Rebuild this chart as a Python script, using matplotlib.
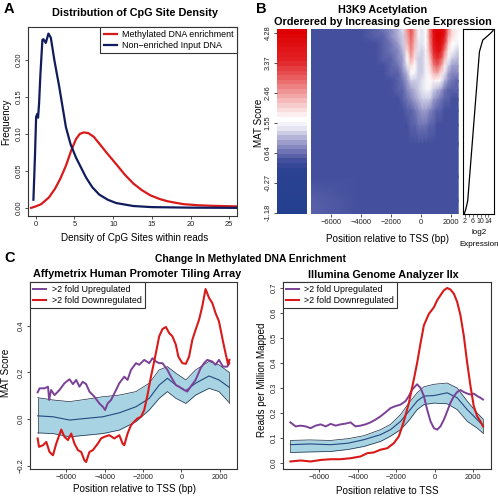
import matplotlib
matplotlib.use("Agg")
import matplotlib.pyplot as plt
import numpy as np
from matplotlib.colors import LinearSegmentedColormap, Normalize
from matplotlib.cm import ScalarMappable

plt.rcParams['font.family'] = ['Liberation Sans', 'DejaVu Sans']

# ---------------- Panel A: CpG density ----------------
meth_x = [-0.6, 0, 0.7, 1.7, 2.5, 3.2, 3.9, 4.6, 5.2, 5.7, 6.2, 6.8, 7.5, 8.2, 9.2,
          10.4, 11.5, 12.6, 13.7, 14.8, 16.0, 17.0, 18.0, 19.1, 21.0, 23.0, 26.0]
meth_y = [0.0, 0.002, 0.005, 0.014, 0.026, 0.040, 0.057, 0.078, 0.093, 0.100, 0.102,
          0.101, 0.096, 0.087, 0.074, 0.059, 0.045, 0.033, 0.024, 0.017, 0.012, 0.009,
          0.007, 0.005, 0.0035, 0.0027, 0.002]
input_x = [-0.3, -0.1, 0.05, 0.2, 0.3, 0.43, 0.6, 0.86, 1.0, 1.3, 1.64, 1.95, 2.4, 3.03,
           3.9, 4.5, 5.2, 6.5, 7.3, 8.2, 9.3, 10.4, 12.6, 15.0, 20.0, 26.0]
input_y = [0.011, 0.07, 0.123, 0.127, 0.122, 0.141, 0.18, 0.227, 0.228, 0.223, 0.2356,
           0.23, 0.200, 0.164, 0.109, 0.086, 0.068, 0.041, 0.028, 0.018, 0.011, 0.0065,
           0.0025, 0.001, 0.0003, 0.0]

# ---------------- Panel B: heatmap (MAT score) ----------------
# columns: position (bp); rows: gene rank from top (0 = highest expression)
heat_pos = [-7500, -4000, -3000, -2500, -2000, -1500, -1200, -900, -650, -400, -150,
            100, 350, 600, 850, 1100, 1350, 1600, 1850, 2100, 2500]
heat_rank = [0.0, 0.04, 0.08, 0.12, 0.16, 0.20, 0.24, 0.28, 0.33, 0.38, 0.44, 0.52,
             0.62, 0.80, 0.93, 1.0]
heat_mat = [
    [0.40, 0.42, 0.50, 0.65, 0.85, 1.10, 1.35, 2.50, 3.00, 2.40, 1.45, 1.40, 1.70, 2.70, 3.90, 4.30, 4.30, 3.90, 2.60, 2.00, 1.80],
    [0.40, 0.42, 0.48, 0.60, 0.80, 1.05, 1.30, 2.40, 2.90, 2.30, 1.45, 1.40, 1.65, 2.60, 3.80, 4.30, 4.20, 3.60, 2.40, 1.90, 1.70],
    [0.40, 0.41, 0.46, 0.55, 0.72, 0.95, 1.20, 2.20, 2.80, 2.20, 1.40, 1.35, 1.60, 2.50, 3.60, 4.10, 4.00, 3.20, 2.10, 1.70, 1.50],
    [0.40, 0.40, 0.44, 0.50, 0.65, 0.85, 1.10, 1.90, 2.60, 2.10, 1.35, 1.30, 1.55, 2.30, 3.40, 3.90, 3.60, 2.70, 1.80, 1.50, 1.30],
    [0.40, 0.40, 0.42, 0.47, 0.58, 0.75, 1.00, 1.60, 2.30, 1.90, 1.30, 1.25, 1.50, 2.10, 3.00, 3.40, 3.10, 2.20, 1.50, 1.25, 1.10],
    [0.40, 0.40, 0.41, 0.44, 0.52, 0.66, 0.90, 1.35, 2.00, 1.70, 1.25, 1.20, 1.50, 1.90, 2.60, 2.90, 2.50, 1.80, 1.20, 1.00, 0.90],
    [0.40, 0.40, 0.40, 0.42, 0.48, 0.60, 0.80, 1.10, 1.60, 1.50, 1.20, 1.20, 1.50, 1.75, 2.20, 2.30, 2.00, 1.40, 0.95, 0.80, 0.75],
    [0.40, 0.40, 0.40, 0.41, 0.45, 0.55, 0.70, 0.90, 1.25, 1.30, 1.20, 1.35, 1.55, 1.65, 1.80, 1.70, 1.45, 1.05, 0.75, 0.65, 0.60],
    [0.40, 0.40, 0.40, 0.40, 0.42, 0.50, 0.60, 0.75, 0.90, 1.05, 1.20, 1.40, 1.50, 1.45, 1.30, 1.10, 0.90, 0.70, 0.60, 0.55, 0.50],
    [0.40, 0.40, 0.40, 0.40, 0.41, 0.45, 0.52, 0.62, 0.75, 0.90, 1.05, 1.20, 1.25, 1.20, 1.00, 0.80, 0.65, 0.55, 0.50, 0.45, 0.45],
    [0.40, 0.40, 0.40, 0.40, 0.40, 0.42, 0.46, 0.52, 0.60, 0.70, 0.85, 0.95, 0.95, 0.85, 0.70, 0.60, 0.50, 0.45, 0.42, 0.42, 0.40],
    [0.40, 0.40, 0.40, 0.40, 0.40, 0.40, 0.42, 0.45, 0.50, 0.55, 0.62, 0.66, 0.64, 0.58, 0.50, 0.45, 0.42, 0.40, 0.40, 0.40, 0.40],
    [0.40, 0.40, 0.40, 0.40, 0.40, 0.40, 0.40, 0.41, 0.42, 0.43, 0.45, 0.46, 0.45, 0.43, 0.42, 0.41, 0.40, 0.40, 0.40, 0.40, 0.40],
    [0.40, 0.40, 0.40, 0.40, 0.40, 0.40, 0.40, 0.40, 0.40, 0.40, 0.40, 0.40, 0.40, 0.40, 0.40, 0.40, 0.40, 0.40, 0.40, 0.40, 0.40],
    [0.50, 0.40, 0.40, 0.40, 0.40, 0.40, 0.40, 0.40, 0.40, 0.40, 0.40, 0.40, 0.40, 0.40, 0.40, 0.40, 0.40, 0.40, 0.40, 0.40, 0.40],
    [0.60, 0.42, 0.40, 0.40, 0.40, 0.40, 0.40, 0.40, 0.40, 0.40, 0.40, 0.40, 0.40, 0.40, 0.40, 0.40, 0.40, 0.40, 0.40, 0.40, 0.40],
]
cbar_ticks = [-1.18, -0.27, 0.64, 1.55, 2.46, 3.37, 4.28]

# sorted log2 expression (rank fraction from bottom to top)
exp_rank = [0.0, 0.025, 0.07, 0.877, 0.94, 0.971, 0.99, 1.0]
exp_value = [1.6, 2.4, 3.4, 9.4, 11.1, 14.5, 16.3, 16.5]

# ---------------- Panel C left: Affymetrix ----------------
affy_up_x = [-7500, -7400, -7140, -6960, -6900, -6800, -6620, -6360, -6100, -5840, -5660,
             -5490, -5320, -5150, -4970, -4800, -4540, -4280, -4100, -3980, -3850, -3670,
             -3500, -3240, -2980, -2810, -2630, -2370, -2200, -1940, -1680, -1510, -1330,
             -1160, -990, -730, -550, -290, -120, 140, 310, 480, 740, 1000, 1180, 1350,
             1610, 1780, 1960, 2170, 2390, 2500]
affy_up_y = [0.115, 0.132, 0.132, 0.139, 0.082, 0.125, 0.103, 0.125, 0.154, 0.171, 0.150,
             0.168, 0.139, 0.160, 0.150, 0.118, 0.096, 0.067, 0.053, 0.039, 0.067, 0.082,
             0.110, 0.154, 0.182, 0.168, 0.211, 0.240, 0.233, 0.254, 0.240, 0.261, 0.247,
             0.240, 0.240, 0.211, 0.182, 0.146, 0.139, 0.125, 0.118, 0.139, 0.168, 0.218,
             0.240, 0.254, 0.247, 0.233, 0.254, 0.225, 0.225, 0.240]
affy_down_x = [-7500, -7430, -7220, -7050, -6880, -6700, -6530, -6270, -6100, -5920, -5750,
               -5580, -5400, -5230, -5060, -4970, -4800, -4620, -4360, -4190, -4020, -3760,
               -3500, -3240, -3070, -2980, -2810, -2630, -2460, -2290, -2110, -1940, -1770,
               -1590, -1420, -1160, -990, -810, -640, -470, -290, -160, 50, 230, 400, 570,
               740, 920, 1090, 1260, 1440, 1610, 1780, 1960, 2170, 2300, 2440, 2500]
affy_down_y = [-0.083, -0.119, -0.112, -0.098, -0.141, -0.155, -0.105, -0.045, -0.076, -0.090,
               -0.062, -0.105, -0.133, -0.141, -0.177, -0.184, -0.141, -0.133, -0.105, -0.083,
               -0.076, -0.069, -0.083, -0.069, -0.105, -0.112, -0.062, -0.026, -0.011, 0.003,
               0.010, 0.039, 0.103, 0.182, 0.247, 0.355, 0.386, 0.395, 0.369, 0.355, 0.319,
               0.268, 0.240, 0.237, 0.268, 0.340, 0.383, 0.426, 0.484, 0.558, 0.520, 0.498,
               0.455, 0.419, 0.333, 0.283, 0.233, 0.254]
affy_band_x = [-7500, -6700, -5840, -4970, -4100, -3240, -2370, -1680, -1160, -730, -290,
               230, 740, 1440, 1960, 2500]
affy_mid = [0.014, 0.010, -0.004, 0.003, 0.010, 0.027, 0.053, 0.089, 0.146, 0.175, 0.146,
            0.122, 0.154, 0.185, 0.168, 0.136]
affy_hi = [0.092, 0.082, 0.075, 0.085, 0.096, 0.103, 0.118, 0.154, 0.211, 0.225, 0.197,
           0.168, 0.211, 0.247, 0.233, 0.200]
affy_lo = [-0.059, -0.062, -0.076, -0.069, -0.062, -0.047, -0.011, 0.039, 0.089, 0.118,
           0.089, 0.067, 0.103, 0.132, 0.118, 0.070]

# ---------------- Panel C right: Illumina ----------------
illu_down_x = [-7500, -6970, -6450, -5930, -5410, -4900, -4380, -3860, -3510, -3170, -2820,
               -2470, -2130, -1870, -1610, -1350, -1090, -920, -740, -570, -310, -50, 120,
               290, 470, 640, 810, 990, 1160, 1330, 1500, 1680, 1850, 2020, 2200, 2370, 2500]
illu_down_y = [0.007, 0.011, 0.007, 0.013, 0.016, 0.016, 0.020, 0.027, 0.040, 0.043, 0.054,
               0.060, 0.080, 0.107, 0.167, 0.240, 0.335, 0.400, 0.480, 0.550, 0.596, 0.622,
               0.650, 0.670, 0.690, 0.699, 0.693, 0.676, 0.643, 0.590, 0.510, 0.400, 0.308,
               0.228, 0.187, 0.167, 0.147]
illu_up_x = [-7500, -7230, -6970, -6710, -6450, -6190, -5930, -5670, -5410, -5150, -4900,
             -4640, -4380, -4120, -3860, -3600, -3340, -3080, -2820, -2560, -2300, -2040,
             -1780, -1520, -1350, -1180, -920, -740, -570, -400, -225, -50, 120, 290, 470,
             640, 810, 990, 1160, 1330, 1500, 1680, 1850, 2020, 2200, 2370, 2500]
illu_up_y = [0.163, 0.147, 0.150, 0.147, 0.140, 0.150, 0.155, 0.147, 0.157, 0.150, 0.155,
             0.158, 0.163, 0.147, 0.150, 0.155, 0.163, 0.174, 0.187, 0.203, 0.220, 0.228,
             0.234, 0.248, 0.268, 0.294, 0.315, 0.300, 0.268, 0.214, 0.167, 0.140, 0.134,
             0.147, 0.174, 0.207, 0.241, 0.268, 0.284, 0.292, 0.284, 0.278, 0.274, 0.278,
             0.268, 0.261, 0.254]
illu_band_x = [-7500, -6500, -5410, -4500, -3680, -2820, -2300, -1780, -1350, -920, -570,
               -50, 640, 1160, 1680, 2200, 2500]
illu_mid = [0.074, 0.077, 0.074, 0.080, 0.094, 0.114, 0.134, 0.167, 0.207, 0.248, 0.268,
            0.270, 0.281, 0.261, 0.214, 0.174, 0.150]
illu_hi = [0.091, 0.093, 0.091, 0.098, 0.110, 0.134, 0.155, 0.194, 0.240, 0.281, 0.305,
           0.315, 0.320, 0.300, 0.248, 0.200, 0.177]
illu_lo = [0.043, 0.045, 0.047, 0.055, 0.067, 0.087, 0.108, 0.134, 0.170, 0.214, 0.234,
           0.240, 0.237, 0.214, 0.167, 0.140, 0.120]

RED = '#d91a1a'
NAVY = '#101c5c'
PURPLE = '#7a4197'
BAND = '#a8d3e2'
BANDLINE = '#23497f'

W, H = 498, 499
TITLE = 7.8
LABEL = 7.1


def box(l, t, r, b):
    return [l / W, 1 - b / H, (r - l) / W, (b - t) / H]


def ftext(x, y, s, **kw):
    fig.text(x / W, 1 - y / H, s, ha='center', va='center', **kw)


def style_axes(ax):
    for sp in ax.spines.values():
        sp.set_linewidth(0.8)
        sp.set_color('#333333')
    ax.tick_params(direction='out', length=2.4, width=0.6, labelsize=5.4, pad=1.5,
                   colors='#333333', labelcolor='#222222')


def rotate_y(ax):
    for lab in ax.get_yticklabels():
        lab.set_rotation(90)
        lab.set_va('center')


fig = plt.figure(figsize=(4.98, 4.99), dpi=100)

# ---- A ----
axA = fig.add_axes(box(28, 27, 237, 216))
axA.plot(meth_x, meth_y, color=RED, lw=1.6, label='Methylated DNA enrichment')
axA.plot(input_x, input_y, color=NAVY, lw=1.6, label='Non\u2212enriched Input DNA')
axA.set_xlim(-1, 26)
axA.set_ylim(-0.011, 0.2445)
axA.set_xticks([0, 5, 10, 15, 20, 25])
axA.set_yticks([0.0, 0.05, 0.10, 0.15, 0.20])
axA.set_yticklabels(['0.00', '0.05', '0.10', '0.15', '0.20'])
style_axes(axA)
rotate_y(axA)
legA = axA.legend(loc='upper right', borderaxespad=0, fancybox=False, edgecolor='#333333',
                  framealpha=1, fontsize=6.4, handlelength=1.5, handletextpad=0.6,
                  borderpad=0.35, labelspacing=0.25)
legA.get_frame().set_linewidth(0.8)
ftext(135, 13, 'Distribution of CpG Site Density', fontsize=TITLE, fontweight='bold')
ftext(135, 238, 'Density of CpG Sites within reads', fontsize=LABEL)
ftext(6, 122, 'Frequency', fontsize=LABEL, rotation=90)
fig.text(4 / W, 1 - 9 / H, 'A', fontsize=10.5, fontweight='bold', va='center', ha='left')

# ---- B ----
vmin, vmax = -1.22, 4.40
cmap = LinearSegmentedColormap.from_list('mat', [
    (0.0, (35 / 255, 64 / 255, 143 / 255)),
    ((0.15 - vmin) / (vmax - vmin), (45 / 255, 66 / 255, 146 / 255)),
    ((0.40 - vmin) / (vmax - vmin), (72 / 255, 82 / 255, 160 / 255)),
    ((0.9 - vmin) / (vmax - vmin), (150 / 255, 150 / 255, 200 / 255)),
    ((1.4 - vmin) / (vmax - vmin), (232 / 255, 232 / 255, 244 / 255)),
    ((1.65 - vmin) / (vmax - vmin), (1, 1, 1)),
    ((1.95 - vmin) / (vmax - vmin), (250 / 255, 222 / 255, 222 / 255)),
    ((2.4 - vmin) / (vmax - vmin), (242 / 255, 165 / 255, 165 / 255)),
    ((2.9 - vmin) / (vmax - vmin), (234 / 255, 100 / 255, 100 / 255)),
    ((3.5 - vmin) / (vmax - vmin), (226 / 255, 32 / 255, 36 / 255)),
    (1.0, (222 / 255, 0, 0)),
], N=40)
norm = Normalize(vmin=vmin, vmax=vmax)

cax = fig.add_axes(box(277, 29, 307, 214))
cb = fig.colorbar(ScalarMappable(norm=norm, cmap=cmap), cax=cax)
cb.outline.set_visible(False)
cax.yaxis.set_ticks_position('left')
cb.set_ticks(cbar_ticks)
cb.set_ticklabels(['%.2f' % t for t in cbar_ticks])
cax.tick_params(direction='out', length=2.4, width=0.6, labelsize=5.4, pad=1.5,
                colors='#333333', labelcolor='#222222')
rotate_y(cax)
ftext(259, 123, 'MAT Score', fontsize=LABEL, rotation=90)

axH = fig.add_axes(box(311, 29, 459, 214))
HX, HY = np.meshgrid(heat_pos, heat_rank)
axH.pcolormesh(HX, HY, np.array(heat_mat), cmap=cmap, norm=norm, shading='gouraud')
axH.set_xlim(-7317, 2553)
axH.set_ylim(1, 0)
axH.set_yticks([])
axH.set_xticks([-6000, -4000, -2000, 0, 2000])
for sp in axH.spines.values():
    sp.set_visible(False)
axH.tick_params(axis='x', direction='out', length=2.4, width=0.6, labelsize=5.4, pad=1.5,
                colors='#333333', labelcolor='#222222')
ftext(387, 239, 'Position relative to TSS (bp)', fontsize=LABEL)

axE = fig.add_axes(box(463, 29, 493.5, 214))
axE.plot(exp_value, exp_rank, color='black', lw=0.9)
axE.set_xlim(1.0, 16.6)
axE.set_ylim(0, 1)
axE.set_yticks([])
axE.set_xticks([2, 4, 6, 8, 10, 12, 14])
axE.set_xticklabels(['2', '', '6', '', '10', '', '14'])
for sp in axE.spines.values():
    sp.set_linewidth(0.8)
    sp.set_color('black')
axE.tick_params(axis='x', direction='out', length=2.0, width=0.5, labelsize=5.0, pad=1.0,
                colors='#333333', labelcolor='#222222')
ftext(479, 232, 'log2', fontsize=5.8)
ftext(479, 244, 'Expression', fontsize=5.8)

ftext(383, 10, 'H3K9 Acetylation', fontsize=TITLE, fontweight='bold')
ftext(383, 22, 'Orderered by Increasing Gene Expression', fontsize=TITLE, fontweight='bold')
fig.text(256 / W, 1 - 9 / H, 'B', fontsize=10.5, fontweight='bold', va='center', ha='left')

# ---- C ----
fig.text(4 / W, 1 - 258 / H, 'C', fontsize=10.5, fontweight='bold', va='center', ha='left')
ftext(250, 259, 'Change In Methylated DNA Enrichment', fontsize=7.4, fontweight='bold')


def profile(ax, bx, mid, hi, lo, upx, upy, dnx, dny):
    ax.fill_between(bx, lo, hi, color=BAND, lw=0)
    ax.plot(bx, hi, color='#1a2a44', lw=0.5)
    ax.plot(bx, lo, color='#1a2a44', lw=0.5)
    ax.plot([bx[0], bx[0]], [lo[0], hi[0]], color='#555555', lw=0.6)
    ax.plot([bx[-1], bx[-1]], [lo[-1], hi[-1]], color='#555555', lw=0.6)
    ax.plot(bx, mid, color=BANDLINE, lw=0.8)
    ax.plot(upx, upy, color=PURPLE, lw=1.4, label='>2 fold Upregulated')
    ax.plot(dnx, dny, color=RED, lw=1.5, label='>2 fold Downregulated')
    ax.set_xlim(-7900, 2900)
    ax.set_xticks([-6000, -4000, -2000, 0, 2000])
    style_axes(ax)
    leg = ax.legend(loc='upper left', borderaxespad=0, fancybox=False, edgecolor='#333333',
                    framealpha=1, fontsize=6.4, handlelength=1.5, handletextpad=0.6,
                    borderpad=0.35, labelspacing=0.25)
    leg.get_frame().set_linewidth(0.8)


axL = fig.add_axes(box(30, 282, 237, 469))
profile(axL, affy_band_x, affy_mid, affy_hi, affy_lo, affy_up_x, affy_up_y,
        affy_down_x, affy_down_y)
axL.set_ylim(-0.214, 0.588)
axL.set_yticks([-0.2, 0.0, 0.2, 0.4])
axL.set_yticklabels(['\u22120.2', '0.0', '0.2', '0.4'])
rotate_y(axL)
ftext(137, 274, 'Affymetrix Human Promoter Tiling Array', fontsize=TITLE, fontweight='bold')
ftext(134, 489, 'Position relative to TSS (bp)', fontsize=LABEL)
ftext(6, 373, 'MAT Score', fontsize=LABEL, rotation=90)

axR = fig.add_axes(box(282.7, 282, 490.7, 469))
profile(axR, illu_band_x, illu_mid, illu_hi, illu_lo, illu_up_x, illu_up_y,
        illu_down_x, illu_down_y)
axR.set_ylim(-0.023, 0.723)
axR.set_yticks([0.0, 0.1, 0.2, 0.3, 0.4, 0.5, 0.6, 0.7])
rotate_y(axR)
ftext(383, 275, 'Illumina Genome Analyzer IIx', fontsize=TITLE, fontweight='bold')
ftext(387, 491, 'Position relative to TSS', fontsize=LABEL)
ftext(262, 380, 'Reads per Million Mapped', fontsize=LABEL, rotation=90)

fig.savefig('out.png', dpi=100)
